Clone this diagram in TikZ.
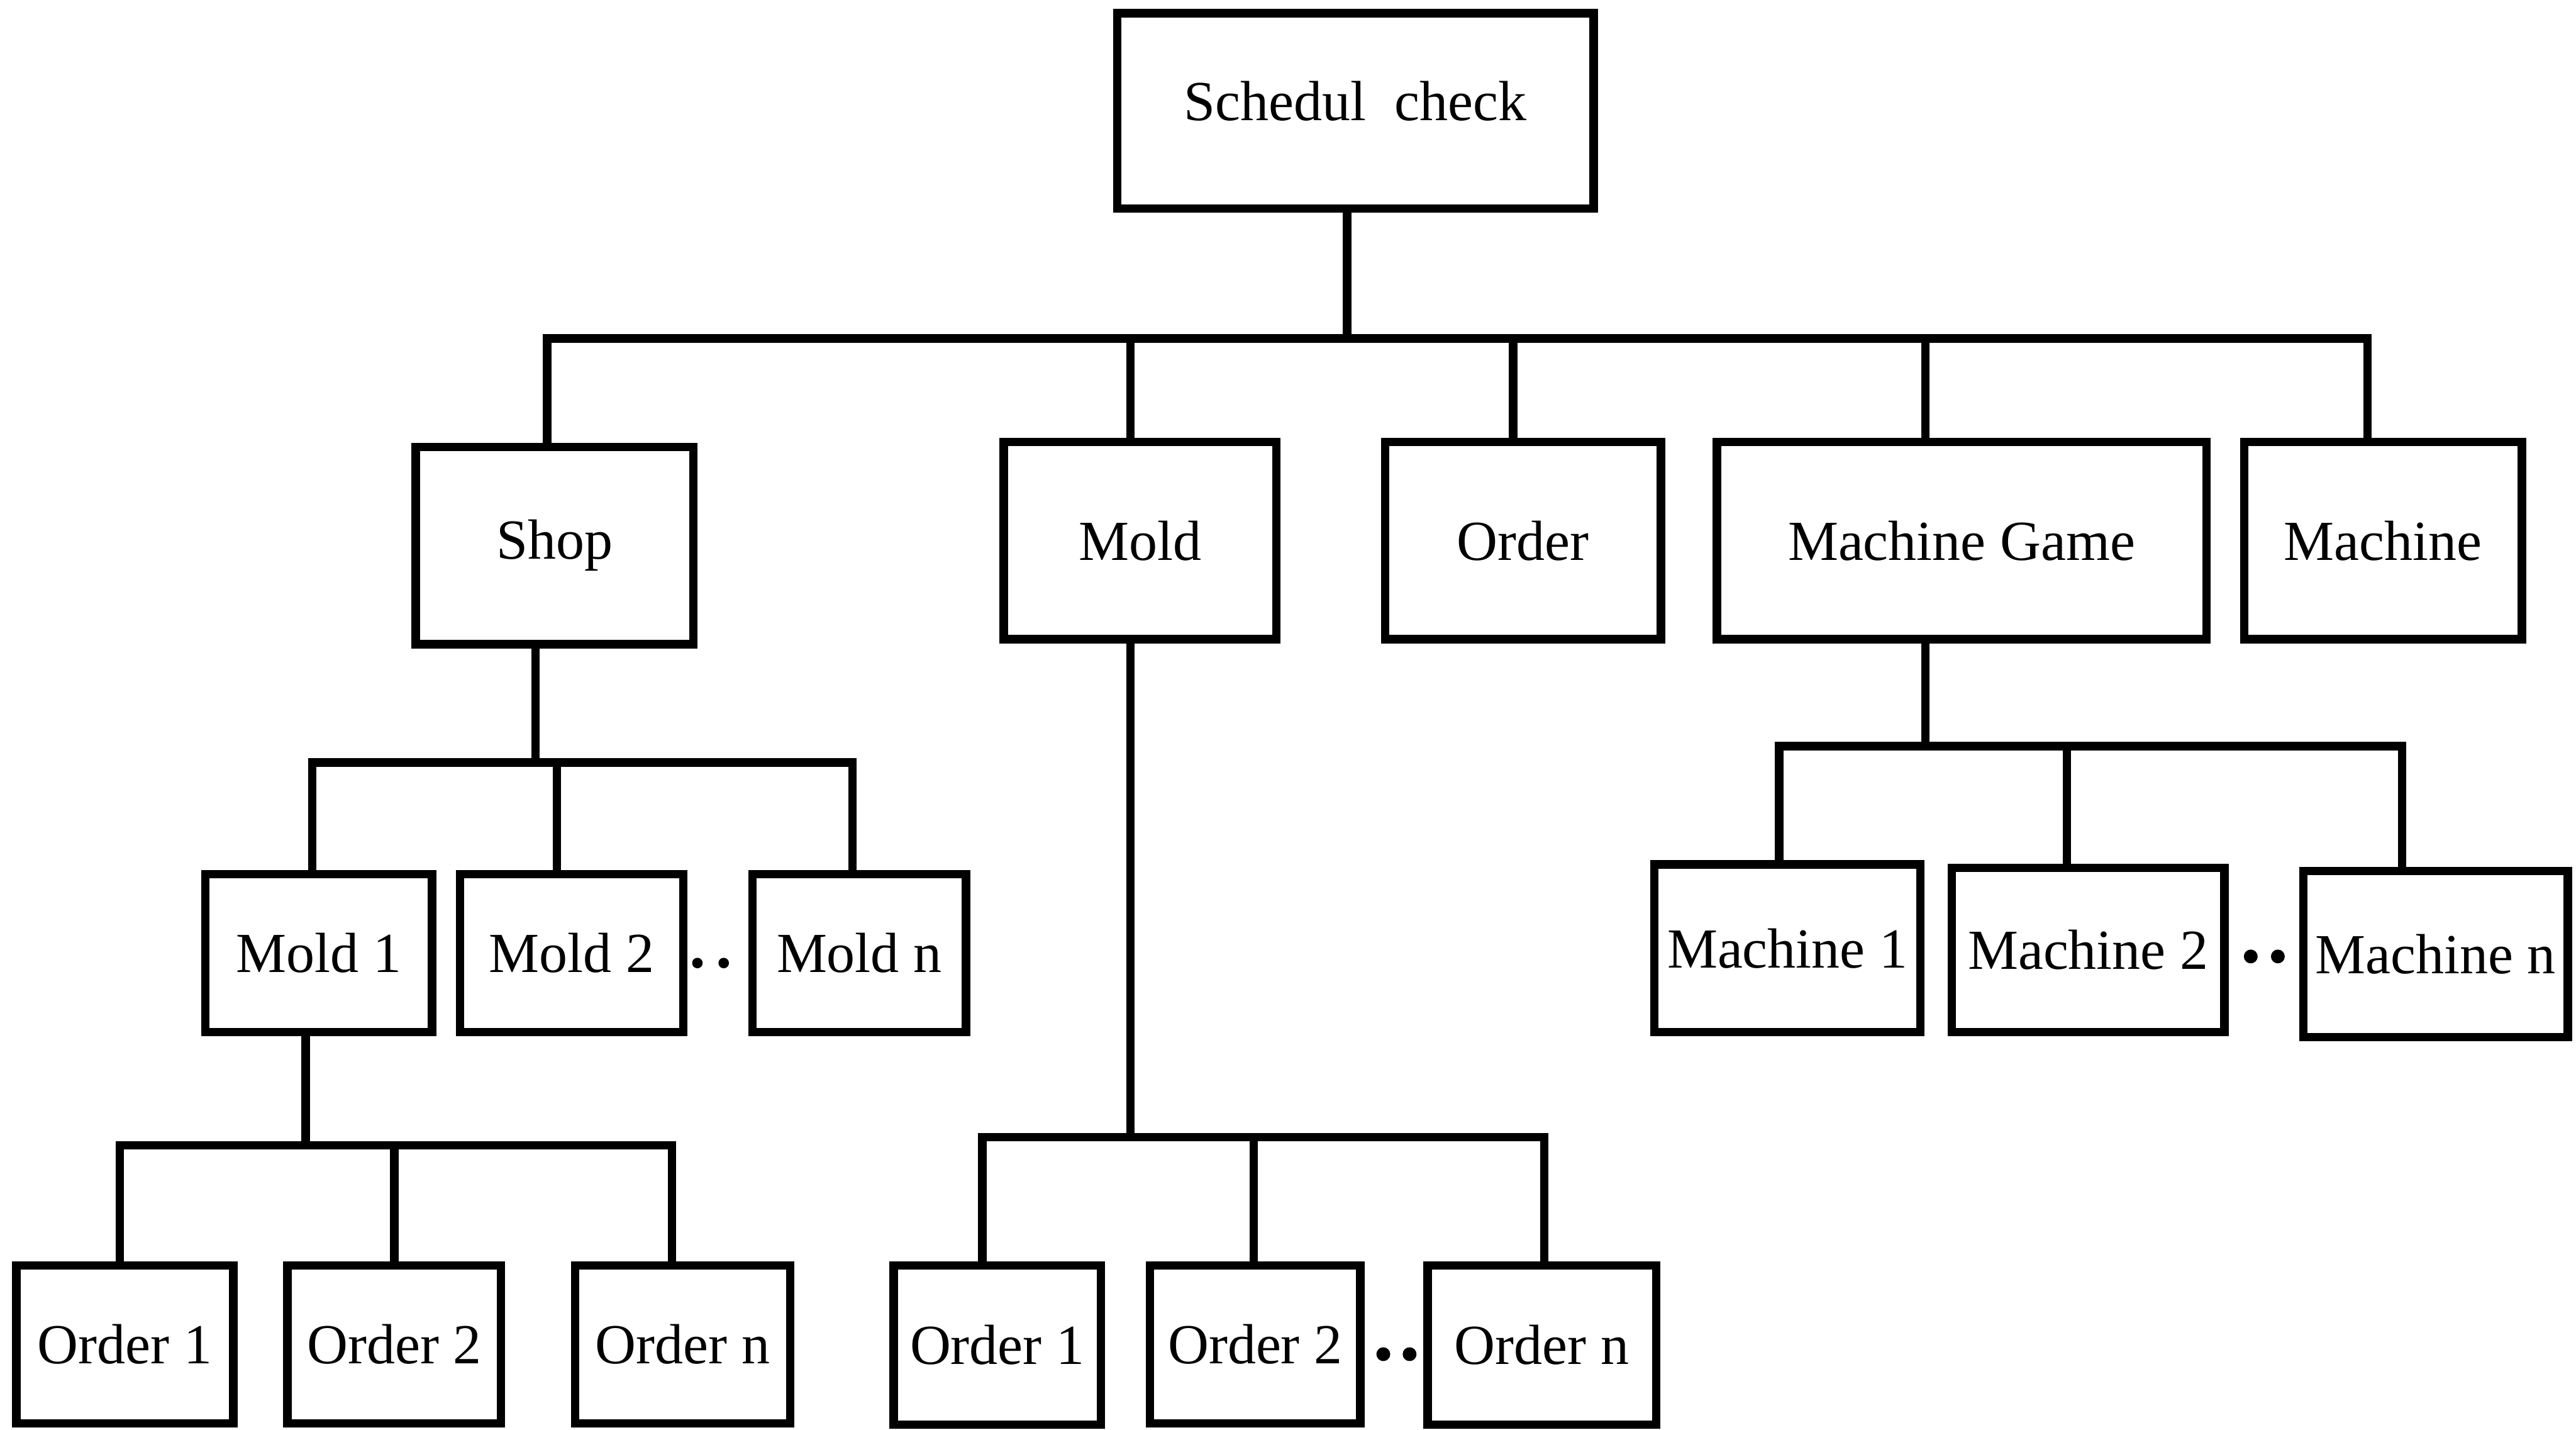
\documentclass[tikz,border=0pt]{standalone}
\usepackage{fontspec}
\setmainfont{Liberation Serif}
\begin{document}
\begin{tikzpicture}[x=1cm,y=-1cm,
  box/.style={draw, line width=1.45pt, inner sep=0pt, align=center,
    font=\fontsize{9.8}{11}\selectfont},
  conn/.style={line width=1.45pt, line join=miter},
  dot/.style={fill=black}]
\useasboundingbox (0,0) rectangle (15.68,8.70);

% top level
\node[box, minimum width=2.90cm, minimum height=1.19cm] (root) at (8.25,0.675) {\raisebox{0.12cm}{Schedul\ \ check}};

% second level
\node[box, minimum width=1.69cm, minimum height=1.20cm] (shop)  at (3.375,3.32) {Shop};
\node[box, minimum width=1.66cm, minimum height=1.20cm] (mold)  at (6.94,3.29)  {Mold};
\node[box, minimum width=1.68cm, minimum height=1.20cm] (order) at (9.27,3.29)  {Order};
\node[box, minimum width=2.98cm, minimum height=1.20cm] (mgame) at (11.94,3.29) {Machine Game};
\node[box, minimum width=1.69cm, minimum height=1.20cm] (mach)  at (14.505,3.29) {Machine};

% molds of a shop
\node[box, minimum width=1.38cm, minimum height=0.96cm] (mold1) at (1.94,5.80) {Mold 1};
\node[box, minimum width=1.36cm, minimum height=0.96cm] (mold2) at (3.48,5.80) {Mold 2};
\node[box, minimum width=1.30cm, minimum height=0.96cm] (moldn) at (5.23,5.80) {Mold n};

% orders of a shop mold
\node[box, minimum width=1.32cm, minimum height=0.96cm] (oa1) at (0.76,8.18)  {Order 1};
\node[box, minimum width=1.30cm, minimum height=0.96cm] (oa2) at (2.40,8.18)  {Order 2};
\node[box, minimum width=1.31cm, minimum height=0.96cm] (oan) at (4.155,8.18) {Order n};

% orders of a mold
\node[box, minimum width=1.26cm, minimum height=0.97cm] (ob1) at (6.07,8.185) {Order 1};
\node[box, minimum width=1.28cm, minimum height=0.96cm] (ob2) at (7.64,8.18)  {Order 2};
\node[box, minimum width=1.39cm, minimum height=0.97cm] (obn) at (9.385,8.185) {Order n};

% machines of a machine game
\node[box, minimum width=1.62cm, minimum height=1.02cm] (m1) at (10.88,5.77)  {Machine 1};
\node[box, minimum width=1.66cm, minimum height=1.00cm] (m2) at (12.71,5.78)  {Machine 2};
\node[box, minimum width=1.61cm, minimum height=1.01cm] (mn) at (14.825,5.805) {Machine n};

% junction points on the branch bars
\coordinate (r0) at (8.20,2.06);
\coordinate (r1) at (3.33,2.06);
\coordinate (r2) at (6.88,2.06);
\coordinate (r3) at (9.21,2.06);
\coordinate (r4) at (11.72,2.06);
\coordinate (r5) at (14.41,2.06);

\coordinate (s0) at (3.26,4.64);
\coordinate (s1) at (1.90,4.64);
\coordinate (s2) at (3.39,4.64);
\coordinate (s3) at (5.19,4.64);

\coordinate (a0) at (1.86,6.97);
\coordinate (a1) at (0.73,6.97);
\coordinate (a2) at (2.40,6.97);
\coordinate (a3) at (4.09,6.97);

\coordinate (b0) at (6.88,6.92);
\coordinate (b1) at (5.98,6.92);
\coordinate (b2) at (7.63,6.92);
\coordinate (b3) at (9.40,6.92);

\coordinate (g0) at (11.72,4.54);
\coordinate (g1) at (10.83,4.54);
\coordinate (g2) at (12.58,4.54);
\coordinate (g3) at (14.62,4.54);

% connectors: root to second level
\draw[conn] (root.south -| r0) -- (r0);
\draw[conn] (shop.north -| r1) -- (r1) -- (r5) -- (mach.north -| r5);
\draw[conn] (r2) -- (mold.north -| r2);
\draw[conn] (r3) -- (order.north -| r3);
\draw[conn] (r4) -- (mgame.north -| r4);

% shop to molds
\draw[conn] (shop.south -| s0) -- (s0);
\draw[conn] (mold1.north -| s1) -- (s1) -- (s3) -- (moldn.north -| s3);
\draw[conn] (s2) -- (mold2.north -| s2);

% mold 1 to orders
\draw[conn] (mold1.south -| a0) -- (a0);
\draw[conn] (oa1.north -| a1) -- (a1) -- (a3) -- (oan.north -| a3);
\draw[conn] (a2) -- (oa2.north -| a2);

% mold to orders
\draw[conn] (mold.south -| b0) -- (b0);
\draw[conn] (ob1.north -| b1) -- (b1) -- (b3) -- (obn.north -| b3);
\draw[conn] (b2) -- (ob2.north -| b2);

% machine game to machines
\draw[conn] (mgame.south -| g0) -- (g0);
\draw[conn] (m1.north -| g1) -- (g1) -- (g3) -- (mn.north -| g3);
\draw[conn] (g2) -- (m2.north -| g2);

% ellipsis dots
\fill[dot] (4.245,5.86) circle (0.032) (4.405,5.86) circle (0.032);
\fill[dot] (13.70,5.82) circle (0.042) (13.865,5.82) circle (0.042);
\fill[dot] (8.42,8.24) circle (0.042) (8.58,8.24) circle (0.042);
\end{tikzpicture}
\end{document}
